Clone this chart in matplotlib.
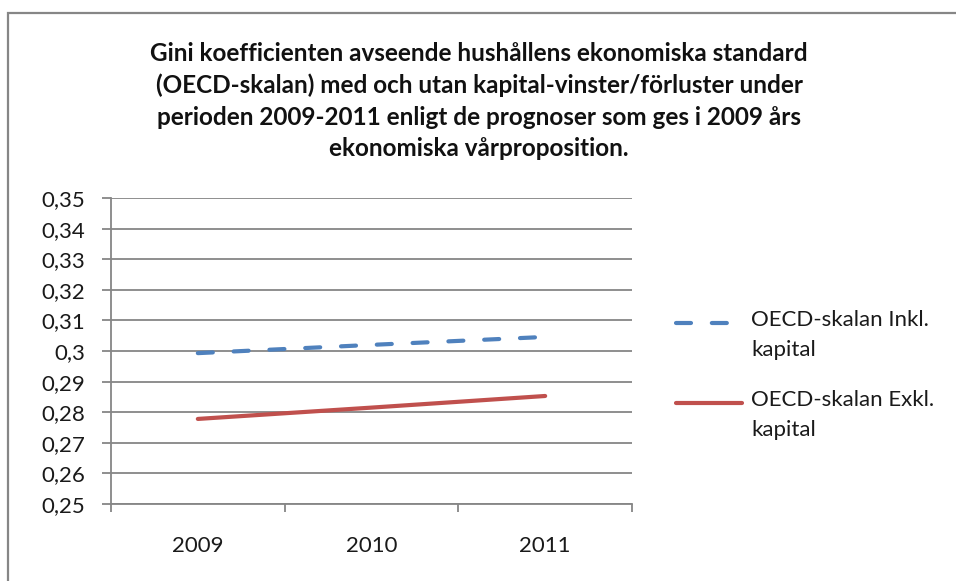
import matplotlib.pyplot as plt
from matplotlib.patches import Rectangle
from matplotlib.lines import Line2D
import numpy as np

# Gini coefficients (OECD scale)
years = ['2009', '2010', '2011']
inkl_kapital = [0.2993, 0.3020, 0.3046]
exkl_kapital = [0.2778, 0.2815, 0.2853]
y_ticks = [0.25, 0.26, 0.27, 0.28, 0.29, 0.30, 0.31, 0.32, 0.33, 0.34, 0.35]
y_tick_labels = ['0,25', '0,26', '0,27', '0,28', '0,29', '0,3', '0,31', '0,32', '0,33', '0,34', '0,35']
series_names = ['OECD-skalan Inkl.\nkapital', 'OECD-skalan Exkl.\nkapital']

title = ('Gini koefficienten avseende hushållens ekonomiska standard\n'
         '(OECD-skalan) med och utan kapital-vinster/förluster under\n'
         'perioden 2009-2011 enligt de prognoser som ges i 2009 års\n'
         'ekonomiska vårproposition.')

plt.rcParams['font.family'] = ['Lato', 'DejaVu Sans']

W, H = 956, 581
blue, red, grey, ink = '#4F81BD', '#C0504D', '#868686', '#1a1a1a'
dash = (0, (3.6, 5.0))

fig = plt.figure(figsize=(W / 100, H / 100), dpi=100)

# outer chart frame
fig.patches.append(Rectangle((8 / W, -0.1), 1.1, 1.1 - 13 / H, transform=fig.transFigure,
                             fill=False, edgecolor=grey, linewidth=1.6))

ax = fig.add_axes([111 / W, 1 - 504 / H, (632 - 111) / W, (504 - 198) / H])

x = np.arange(len(years))
ax.plot(x, inkl_kapital, color=blue, linewidth=3.0, linestyle=dash,
        dash_capstyle='round', solid_capstyle='round')
ax.plot(x, exkl_kapital, color=red, linewidth=3.0, solid_capstyle='round')

ax.set_xlim(-0.5, len(years) - 0.5)
ax.set_ylim(0.25, 0.35)
ax.set_yticks(y_ticks)
ax.set_yticklabels(y_tick_labels, fontsize=16, color=ink)
ax.set_xticks(x)
ax.set_xticklabels(years, fontsize=16, color=ink)
ax.tick_params(axis='x', length=0, pad=23)
ax.set_xticks(np.arange(len(years) + 1) - 0.5, minor=True)
ax.tick_params(axis='x', which='minor', length=6, color=grey, width=1.3)
ax.tick_params(axis='y', length=6.5, color=grey, width=1.3, pad=12)

ax.grid(axis='y', color=grey, linewidth=1.3)
ax.set_axisbelow(True)
for side in ['top', 'right']:
    ax.spines[side].set_visible(False)
for side in ['left', 'bottom']:
    ax.spines[side].set_color(grey)
    ax.spines[side].set_linewidth(1.3)

fig.text(479 / W, 1 - 101 / H, title, ha='center', va='center', fontsize=17.5,
         fontweight='bold', linespacing=1.45, color='#111111')

# legend drawn by hand so the key sits level with the first text line
for name, color, style, ytop in [(series_names[0], blue, dash, 323),
                                 (series_names[1], red, '-', 403)]:
    fig.add_artist(Line2D([676 / W, 742 / W], [1 - ytop / H] * 2, color=color,
                          linewidth=3.0, linestyle=style, dash_capstyle='round',
                          solid_capstyle='round', transform=fig.transFigure))
    fig.text(751 / W, 1 - (ytop - 13) / H, name, ha='left', va='top', fontsize=16,
             color=ink, linespacing=1.6)

fig.savefig('out.png', dpi=100)
